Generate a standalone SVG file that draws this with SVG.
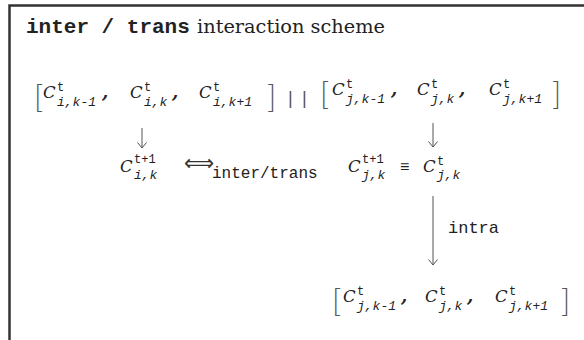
<svg xmlns="http://www.w3.org/2000/svg" width="584" height="340" viewBox="0 0 584 340">
<defs>
<style>
.frame{fill:none;stroke:#333;stroke-width:2.5}
.C{font-family:"DejaVu Serif",serif;font-style:italic;font-size:16.5px;fill:#222}
.sup{font-family:"Liberation Mono",monospace;font-size:12px;fill:#222}
.sub{font-family:"Liberation Mono",monospace;font-style:italic;font-size:13px;fill:#222}
.cm{font-family:"DejaVu Serif",serif;font-weight:bold;font-style:italic;font-size:18px;fill:#222}
.br{font-family:"Lato","Liberation Serif",serif;font-weight:300;font-size:31px;fill:#555}
.bar{font-family:"Liberation Mono",monospace;font-size:18px;fill:#555}
.mono{font-family:"Liberation Mono",monospace;fill:#222}
.conn{fill:none;stroke:#555;stroke-width:1}
</style>
<marker id="ah" viewBox="0 0 10 10" refX="9" refY="5" markerWidth="10" markerHeight="10" markerUnits="userSpaceOnUse" orient="auto">
<path d="M3.5,0.5 L9,5 L3.5,9.5" fill="none" stroke="#555" stroke-width="1"/>
</marker>
</defs>
<rect width="584" height="340" fill="#fff"/>
<path class="frame" d="M9.5,340 V5.5 H584"/>

<g id="title">
<text x="26" y="33" class="mono" font-size="21" font-weight="bold">inter / trans</text>
<text x="197" y="33" font-family="DejaVu Serif,serif" font-size="18" fill="#222" textLength="188" lengthAdjust="spacingAndGlyphs">interaction scheme</text>
</g>

<g id="row-i">
<text x="34" y="108" class="br">[</text>
<text x="43" y="98" class="C">C</text><text x="57" y="91" class="sup">t</text><text x="57" y="105.5" class="sub">i,k-1</text>
<text x="102" y="98" class="cm">,</text>
<text x="130" y="98" class="C">C</text><text x="144" y="91" class="sup">t</text><text x="144" y="105.5" class="sub">i,k</text>
<text x="172" y="98" class="cm">,</text>
<text x="199" y="98" class="C">C</text><text x="213" y="91" class="sup">t</text><text x="213" y="105.5" class="sub">i,k+1</text>
<text x="267" y="108" class="br">]</text>
</g>

<g id="sep">
<text x="285" y="104" class="bar">|</text>
<text x="299" y="104" class="bar">|</text>
</g>

<g id="row-j">
<text x="320" y="105" class="br">[</text>
<text x="332" y="95" class="C">C</text><text x="346" y="88" class="sup">t</text><text x="346" y="102.5" class="sub">j,k-1</text>
<text x="391" y="95" class="cm">,</text>
<text x="417" y="95" class="C">C</text><text x="431" y="88" class="sup">t</text><text x="431" y="102.5" class="sub">j,k</text>
<text x="459" y="95" class="cm">,</text>
<text x="489" y="95" class="C">C</text><text x="503" y="88" class="sup">t</text><text x="503" y="102.5" class="sub">j,k+1</text>
<text x="552" y="105" class="br">]</text>
</g>

<g id="ci-next">
<text x="120" y="172" class="C">C</text><text x="134" y="163" class="sup">t+1</text><text x="134" y="179" class="sub">i,k</text>
</g>

<g id="rel">
<text x="184" y="170" font-size="21" font-family="DejaVu Sans,sans-serif" fill="#333">⟺</text>
<text x="212" y="178" class="mono" font-size="16">inter/trans</text>
</g>

<g id="cj-next">
<text x="348" y="172" class="C">C</text><text x="362" y="163" class="sup">t+1</text><text x="362" y="179" class="sub">j,k</text>
<text x="400" y="172" class="mono" font-size="16">≡</text>
<text x="423" y="172" class="C">C</text><text x="437" y="165" class="sup">t</text><text x="437" y="179" class="sub">j,k</text>
</g>

<g id="row-j-new">
<text x="332" y="312" class="br">[</text>
<text x="343" y="302" class="C">C</text><text x="357" y="295" class="sup">t</text><text x="357" y="309.5" class="sub">j,k-1</text>
<text x="401" y="302" class="cm">,</text>
<text x="425" y="302" class="C">C</text><text x="439" y="295" class="sup">t</text><text x="439" y="309.5" class="sub">j,k</text>
<text x="467" y="302" class="cm">,</text>
<text x="495" y="302" class="C">C</text><text x="509" y="295" class="sup">t</text><text x="509" y="309.5" class="sub">j,k+1</text>
<text x="561" y="312" class="br">]</text>
</g>

<g id="connectors">
<path class="conn" d="M142,128 V148" marker-end="url(#ah)"/>
<path class="conn" d="M433,123 V147" marker-end="url(#ah)"/>
<path class="conn" d="M433,196 V265" marker-end="url(#ah)"/>
<text x="448" y="233" class="mono" font-size="17">intra</text>
</g>
</svg>
